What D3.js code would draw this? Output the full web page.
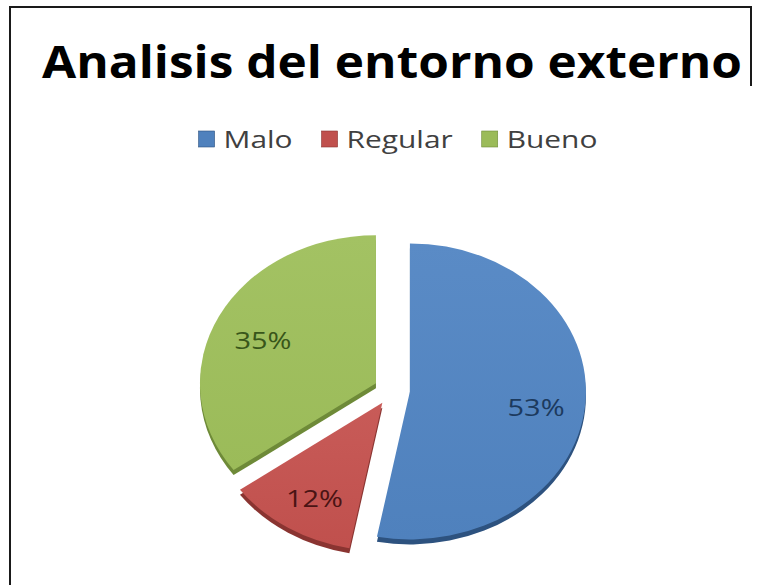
<!DOCTYPE html>
<html>
<head>
<meta charset="utf-8">
<script src="https://cdn.jsdelivr.net/npm/d3@7"></script>
<style>
  body { margin: 0; background: #fff; }
  svg { display: block; }
</style>
</head>
<body>
<svg id="chart" width="757" height="585"></svg>
<script>
// chart data
const categories = ["Malo", "Regular", "Bueno"];
const values = [53, 12, 35];
const labels = ["53%", "12%", "35%"];
const colors = ["#4F81BD", "#C0504D", "#9BBB59"];
const topColors = ["#5A8BC6", "#C85B58", "#A3C263"];
const sideColors = ["#2D527F", "#8A3431", "#6E8A38"];
const labelColors = ["#1C3A5E", "#4A1414", "#38561A"];
const titleText = "Analisis del entorno externo";

const svg = d3.select("#chart");
const font = "'Open Sans', 'DejaVu Sans', sans-serif";

// helper: stretch a text horizontally by a factor
function stretch(t, f) {
  const w = t.node().getComputedTextLength() * f;
  t.attr("textLength", w).attr("lengthAdjust", "spacingAndGlyphs");
  return w;
}

// frame (right side only drawn at the top, like the source picture)
svg.append("line").attr("x1", 10).attr("y1", 7).attr("x2", 10).attr("y2", 585)
  .attr("stroke", "#1a1a1a").attr("stroke-width", 2);
svg.append("line").attr("x1", 9).attr("y1", 7).attr("x2", 752).attr("y2", 7)
  .attr("stroke", "#1a1a1a").attr("stroke-width", 2);
svg.append("line").attr("x1", 751).attr("y1", 6).attr("x2", 751).attr("y2", 86)
  .attr("stroke", "#1a1a1a").attr("stroke-width", 2);

// title, stretched to the width seen in the picture
const title = svg.append("text")
  .attr("x", 42)
  .attr("y", 78)
  .attr("fill", "#000")
  .style("font-family", font)
  .style("font-size", "44px")
  .style("font-weight", "bold")
  .text(titleText);
title.attr("textLength", 700).attr("lengthAdjust", "spacingAndGlyphs");

// legend
const legendY = 148, sq = 16, gapIn = 9, gapOut = 29;
const legend = svg.append("g");
const probe = legend.append("text").style("font-family", font).style("font-size", "23px").text(categories[0]);
const sxLegend = 69 / probe.node().getComputedTextLength();
probe.remove();
const items = categories.map((c, i) => {
  const t = legend.append("text")
    .attr("y", legendY)
    .attr("fill", "#404040")
    .style("font-family", font)
    .style("font-size", "23px")
    .text(c);
  return { t, w: stretch(t, sxLegend), i };
});
const legendW = d3.sum(items, d => sq + gapIn + d.w) + gapOut * (items.length - 1);
let lx = 398 - legendW / 2;
items.forEach(d => {
  legend.append("rect")
    .attr("x", lx).attr("y", legendY - sq - 1)
    .attr("width", sq).attr("height", sq)
    .attr("fill", colors[d.i])
    .attr("stroke", sideColors[d.i]).attr("stroke-width", 0.6);
  d.t.attr("x", lx + sq + gapIn);
  lx += sq + gapIn + d.w + gapOut;
});

// pie: ellipse-shaped, exploded slices with a small side wall
const cx = 392, cy = 390, rx = 176, ry = 148, explode = 18, depth = 5;
const k = ry / rx;
const pie = d3.pie().sort(null).value(d => d);
const arcs = pie(values);
const arc = d3.arc().innerRadius(0).outerRadius(rx);

const defs = svg.append("defs");
colors.forEach((c, i) => {
  const g = defs.append("linearGradient")
    .attr("id", `grad${i}`)
    .attr("x1", 0).attr("y1", 0).attr("x2", 0).attr("y2", 1);
  g.append("stop").attr("offset", "0%").attr("stop-color", topColors[i]);
  g.append("stop").attr("offset", "100%").attr("stop-color", c);
});

const offset = d => {
  const mid = (d.startAngle + d.endAngle) / 2;
  return [cx + explode * Math.sin(mid), cy - explode * Math.cos(mid) * k];
};

const pieG = svg.append("g");
// side walls first
arcs.forEach((d, i) => {
  const [ox, oy] = offset(d);
  pieG.append("path")
    .attr("transform", `translate(${ox},${oy + depth}) scale(1,${k})`)
    .attr("d", arc(d))
    .attr("fill", sideColors[i]);
});
// top faces
arcs.forEach((d, i) => {
  const [ox, oy] = offset(d);
  pieG.append("path")
    .attr("transform", `translate(${ox},${oy}) scale(1,${k})`)
    .attr("d", arc(d))
    .attr("fill", `url(#grad${i})`);
});

// data labels
const probe2 = pieG.append("text").style("font-family", font).style("font-size", "24px").text(labels[0]);
const sxLabel = 57 / probe2.node().getComputedTextLength();
probe2.remove();
arcs.forEach((d, i) => {
  const [ox, oy] = offset(d);
  const mid = (d.startAngle + d.endAngle) / 2;
  const t = pieG.append("text")
    .attr("x", ox + Math.sin(mid) * rx * 0.72)
    .attr("y", oy - Math.cos(mid) * ry * 0.72 + 5)
    .attr("text-anchor", "middle")
    .attr("dominant-baseline", "central")
    .attr("fill", labelColors[i])
    .style("font-family", font)
    .style("font-size", "24px")
    .text(labels[i]);
  stretch(t, sxLabel);
});
</script>
</body>
</html>
